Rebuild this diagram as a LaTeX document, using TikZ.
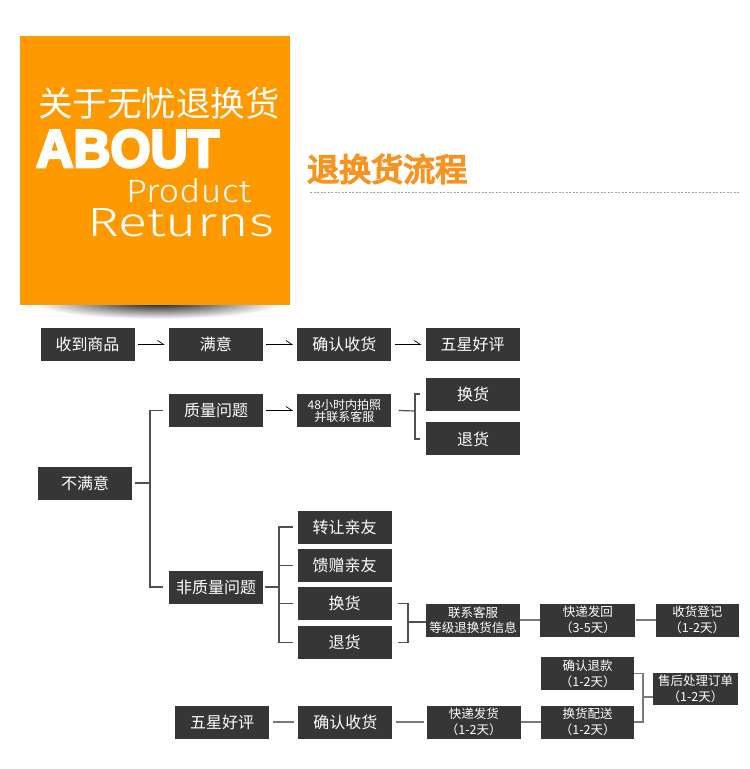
\documentclass[tikz,border=0pt]{standalone}
\usepackage{fontspec}
\usepackage{graphicx}
\usetikzlibrary{arrows.meta,positioning,calc}
\newfontfamily\cjk{Noto Sans CJK SC}
\newfontfamily\heavyfont{Liberation Sans Bold}
\newfontfamily\lightfont{Fira Sans Light}
\newcommand\thicktext[2]{\special{pdf:literal direct 2 Tr #1 w}#2\special{pdf:literal direct 0 Tr}}
\definecolor{retOrange}{HTML}{FF9900}
\definecolor{retTitle}{HTML}{F7931E}
\definecolor{retBox}{HTML}{363636}
\definecolor{retLine}{HTML}{505050}
\definecolor{retFlow}{HTML}{7A7A7A}
\definecolor{retDots}{HTML}{A0A0A0}

\begin{document}
\begin{tikzpicture}[x=1pt,y=1pt,node distance=34pt,
    box/.style={fill=retBox,text=white,minimum width=94pt,minimum height=33pt,inner sep=0pt,align=center,font=\cjk\fontsize{16}{18}\selectfont},
    small/.style={box,font=\cjk\fontsize{12.5}{15.5}\selectfont},
    harp/.style={-{Straight Barb[left,length=6pt,width=8pt]},line width=0.7pt,shorten >=4pt,shorten <=3pt},
    brk/.style={draw=retLine,line width=1.2pt},
    flow/.style={draw=retFlow,line width=1.5pt}]
  \fill[white] (0,0) rectangle (750,-769);
  \useasboundingbox (0,0) rectangle (750,-769);
  % orange banner with its shadow
  \begin{scope}
    \clip (0,-305) rectangle (330,-330);
    \shade[inner color=black!95,outer color=white] (158,-302) ellipse [x radius=125,y radius=17];
  \end{scope}
  \fill[retOrange] (20,-36) rectangle (290,-305);
  \node[anchor=west,inner sep=0pt,text=white,font=\cjk\fontsize{34.5}{34.5}\selectfont] (cn) at (38,-103) {关于无忧退换货};
  \node[anchor=base west,inner sep=0pt,text=white] (about) at (36,-167) {\resizebox{183pt}{37pt}{\heavyfont\thicktext{0.5}{ABOUT}}};
  \node[anchor=base west,inner sep=0pt,text=white] (prod) at (126,-202) {\resizebox{125pt}{24pt}{\lightfont Product}};
  \node[anchor=base west,inner sep=0pt,text=white] (rets) at (87,-236) {\resizebox{187pt}{28pt}{\lightfont Returns}};
  % title
  \node[anchor=west,inner sep=0pt,text=retTitle,font=\cjk\fontsize{32}{32}\selectfont] (title) at (307,-169) {\thicktext{1.6}{退换货流程}};
  \draw[retDots,line width=0.8pt,dash pattern=on 2pt off 1.5pt] (310,-192) -- (740,-192);

  % satisfied
  \node[box] (recv) at (87.5,-344.5) {收到商品};
  \node[box,right=of recv] (ok) {满意};
  \node[box,right=of ok] (conf) {确认收货};
  \node[box,right=of conf] (star) {五星好评};
  % not satisfied
  \node[box] (bad) at (85,-483) {不满意};
  \node[box] (qual) at (216,-410.5) {质量问题};
  \node[small,right=of qual,font=\cjk\fontsize{12}{12}\selectfont] (photo) {48小时内拍照\\并联系客服};
  \node[box] (exch) at (473,-394) {换货};
  \node[box,below=11.5pt of exch] (ret) {退货};
  \node[box] (nonq) at (216,-587) {非质量问题};
  \node[box] (give) at (344.5,-527) {转让亲友};
  \node[box,below=5pt of give] (gift) {馈赠亲友};
  \node[box,below=5pt of gift] (swap2) {换货};
  \node[box,below=5pt of swap2] (ret2) {退货};
  \node[small] (contact) at (473,-620) {联系客服\\等级退换货信息};
  \node[small,right=20pt of contact,minimum width=95pt] (back) {快递发回\\（3-5天）};
  \node[small,right=20pt of back,minimum width=83pt] (reg) {收货登记\\（1-2天）};
  % after-sale
  \node[box] (star2) at (222,-722) {五星好评};
  \node[box,right=29pt of star2] (conf2) {确认收货};
  \node[small,right=of conf2] (ship) {快递发货\\（1-2天）};
  \node[small,right=20pt of ship,minimum width=93pt] (swap) {换货配送\\（1-2天）};
  \node[small,above=15pt of swap,minimum width=93pt] (refund) {确认退款\\（1-2天）};
  \node[small,minimum width=85pt,minimum height=32pt] (after) at (695.5,-689) {售后处理订单\\（1-2天）};

  \foreach \a/\b in {recv/ok,ok/conf,conf/star,qual/photo}
    \draw[harp] (\a) -- (\b);
  \coordinate (pj) at (415,-411);
  \draw[brk] ([xshift=7pt]photo.east) -- (pj);
  \draw[brk] ([xshift=-6pt]exch.west) -| (pj) |- ([xshift=-6pt]ret.west);
  \coordinate (bj) at (150,-483);
  \draw[brk] ([xshift=3pt]bad.east) -- (bj);
  \draw[brk] ([xshift=-6pt]qual.west) -| (bj) |- ([xshift=-6pt]nonq.west);
  \coordinate (nj) at (279,-587);
  \draw[brk] ([xshift=2pt]nonq.east) -- (nj);
  \draw[brk] ([xshift=-4pt]give.west) -| (nj) |- ([xshift=-4pt]ret2.west);
  \foreach \n in {gift,swap2}
    \draw[brk] (nj |- \n.west) -- ([xshift=-4pt]\n.west);
  \coordinate (sj) at (408,-622);
  \draw[brk] ([xshift=6pt]swap2.east) -| (sj) |- ([xshift=6pt]ret2.east);
  \draw[brk] (sj) -- (contact.west |- sj);
  \draw[flow] (contact) -- (back);
  \draw[flow] (back) -- (reg);
  \draw[flow,shorten <=4pt,shorten >=4pt] (star2) -- (conf2);
  \draw[flow,shorten <=3pt,shorten >=3pt] (conf2) -- (ship);
  \draw[flow] (ship) -- (swap);
  \coordinate (aj) at (643,-697);
  \draw[flow] (refund.east) -| (aj) |- (swap.east);
  \draw[flow] (aj) -- (after.west |- aj);
\end{tikzpicture}
\end{document}
